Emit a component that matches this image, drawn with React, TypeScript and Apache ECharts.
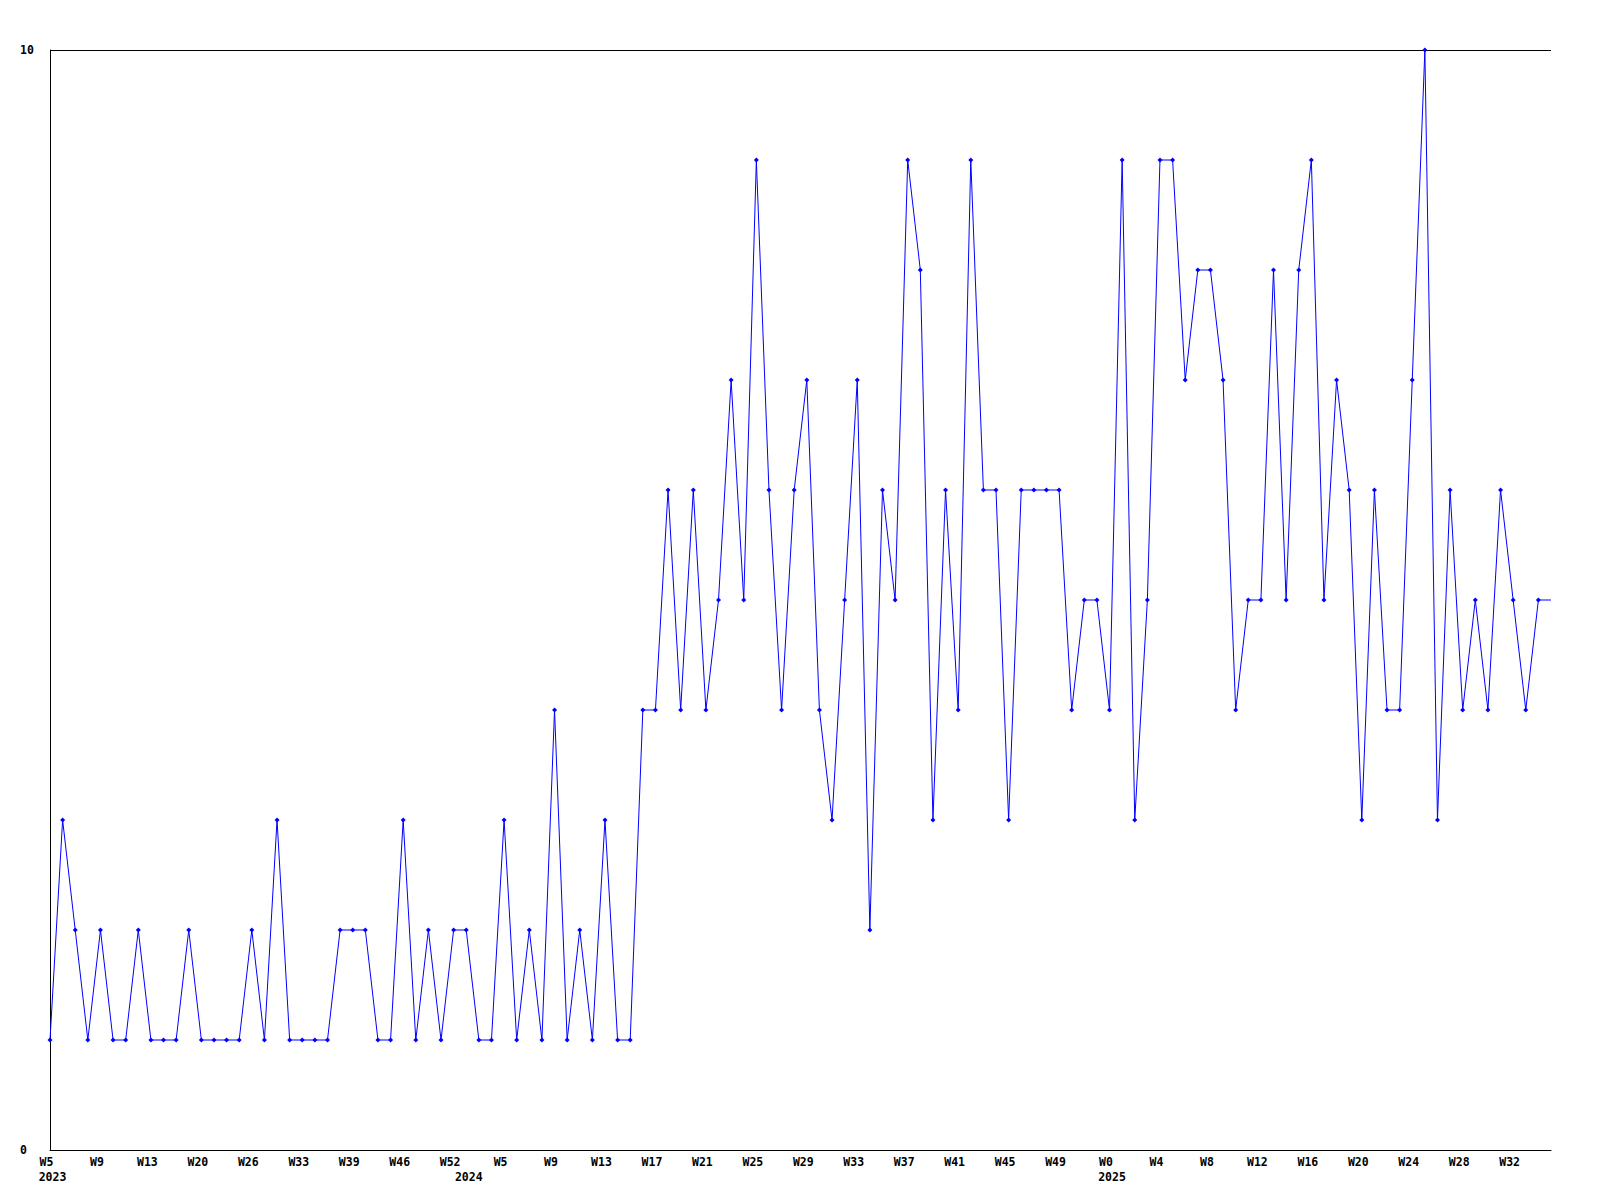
import React, { useEffect, useRef } from "react";
import * as echarts from "echarts";

// ISO-like week numbers present in the data, by year
const weeks2023 = [5, 6, 7, 8, 9, 10, 11, 12, 13, 15, 17, 18, 20, 22, 24, 25, 26, 28, 30, 31, 33, 35, 36, 38, 39, 41, 43, 44, 46, 48, 50, 51, 52];
const weeks2024 = [1, 2, 3, 5, 6, 7, 8, 9, 10, 11, 12, 13, 14, 15, 16, 17, 18, 19, 20, 21, 22, 23, 24, 25, 26, 27, 28, 29, 30, 31, 32, 33, 34, 35, 36, 37, 38, 39, 40, 41, 42, 43, 44, 45, 46, 47, 48, 49, 50, 51, 52];
const weeks2025 = [0, 1, 2, 3, 4, 5, 6, 7, 8, 9, 10, 11, 12, 13, 14, 15, 16, 17, 18, 19, 20, 21, 22, 23, 24, 25, 26, 27, 28, 29, 30, 31, 32, 33, 34, 35];

const values = [
  1, 3, 2, 1, 2, 1, 1, 2, 1, 1, 1, 2, 1, 1, 1, 1, 2, 1, 3, 1,
  1, 1, 1, 2, 2, 2, 1, 1, 3, 1, 2, 1, 2, 2, 1, 1, 3, 1, 2, 1,
  4, 1, 2, 1, 3, 1, 1, 4, 4, 6, 4, 6, 4, 5, 7, 5, 9, 6, 4, 6,
  7, 4, 3, 5, 7, 2, 6, 5, 9, 8, 3, 6, 4, 9, 6, 6, 3, 6, 6, 6,
  6, 4, 5, 5, 4, 9, 3, 5, 9, 9, 7, 8, 8, 7, 4, 5, 5, 8, 5, 8,
  9, 5, 7, 6, 3, 6, 4, 4, 7, 10, 3, 6, 4, 5, 4, 6, 5, 4, 5, 5,
];

const yTicks = [0, 10];

const categories: string[] = [
  ...weeks2023.map((w) => `2023-W${w}`),
  ...weeks2024.map((w) => `2024-W${w}`),
  ...weeks2025.map((w) => `2025-W${w}`),
];

const FONT = "'DejaVu Sans Mono', monospace";

export default function App() {
  const ref = useRef<HTMLDivElement>(null);
  useEffect(() => {
    if (!ref.current) return;
    const chart = echarts.init(ref.current, null, { renderer: "svg" });
    const yearOf = (c: string) => c.split("-W")[0];
    const weekOf = (c: string) => "W" + c.split("-W")[1];
    const isYearStart = (i: number) => i === 0 || yearOf(categories[i]) !== yearOf(categories[i - 1]);
    const seriesData = values.map((v, i) =>
      i === values.length - 1 ? { value: v, symbol: "none" } : v
    );
    chart.setOption({
      animation: false,
      backgroundColor: "#ffffff",
      grid: { left: 50, right: 49, top: 50, bottom: 50, containLabel: false },
      xAxis: [
        {
          type: "category",
          data: categories,
          boundaryGap: false,
          position: "bottom",
          axisLine: { show: true, lineStyle: { color: "#000000", width: 1 } },
          axisTick: { show: false },
          splitLine: { show: false },
          axisLabel: {
            interval: 3,
            margin: 6,
            color: "#000000",
            fontFamily: FONT,
            fontWeight: "bold",
            fontSize: 11.5,
            padding: [0, 7, 0, 0],
            formatter: (v: string) => weekOf(v),
          },
        },
        {
          type: "category",
          data: categories,
          boundaryGap: false,
          position: "bottom",
          offset: 0,
          axisLine: { show: false },
          axisTick: { show: false },
          splitLine: { show: false },
          axisLabel: {
            interval: (i: number) => isYearStart(i),
            margin: 21,
            color: "#000000",
            fontFamily: FONT,
            fontWeight: "bold",
            fontSize: 11.5,
            padding: [0, 0, 0, 5],
            formatter: (v: string) => yearOf(v),
          },
        },
      ],
      yAxis: {
        type: "value",
        min: yTicks[0],
        max: yTicks[yTicks.length - 1],
        interval: yTicks[1] - yTicks[0],
        axisLine: { show: true, lineStyle: { color: "#000000", width: 1 } },
        axisTick: { show: false },
        splitLine: { show: true, lineStyle: { color: "#000000", width: 1 } },
        axisLabel: {
          align: "left",
          margin: 30,
          color: "#000000",
          fontFamily: FONT,
          fontWeight: "bold",
          fontSize: 11.5,
        },
      },
      series: [
        {
          type: "line",
          xAxisIndex: 0,
          data: seriesData,
          symbol: "diamond",
          symbolSize: 5,
          showAllSymbol: true,
          itemStyle: { color: "#0000ff" },
          lineStyle: { color: "#0000ff", width: 1 },
        },
      ],
    });
    return () => chart.dispose();
  }, []);
  return (
    <div
      ref={ref}
      style={{ position: "absolute", left: 0, top: 0, width: 1600, height: 1200, background: "#ffffff" }}
    />
  );
}
